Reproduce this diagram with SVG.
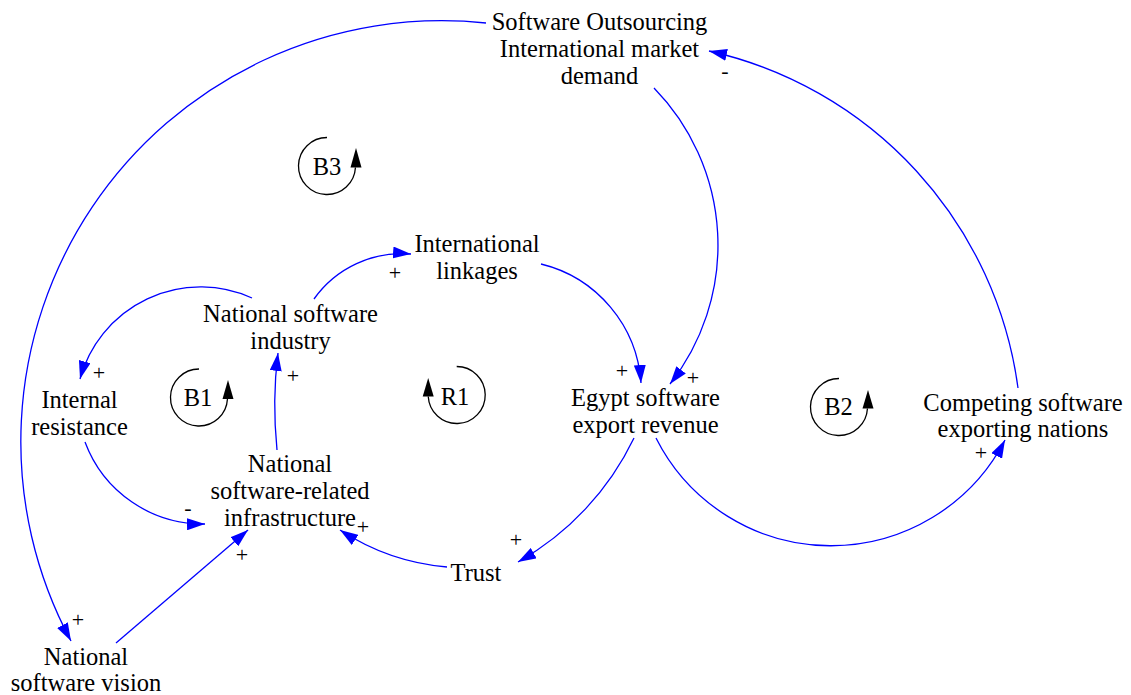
<svg xmlns="http://www.w3.org/2000/svg" width="1131" height="695" viewBox="0 0 1131 695" font-family="'Liberation Serif', 'Times New Roman', Times, serif">
<style>
text{font-family:"Liberation Serif","Times New Roman",Times,serif;fill:#000;}
.n{font-size:24.5px;text-anchor:middle;}
.p{font-size:22px;text-anchor:middle;}
.c{fill:none;stroke:#0000FF;stroke-width:1.3;marker-end:url(#ah);}
.loop{fill:none;stroke:#000;stroke-width:1.3;}
.lh{fill:#000;stroke:none;}
</style>
<defs>
<marker id="ah" markerUnits="userSpaceOnUse" viewBox="0 0 18 12" markerWidth="18" markerHeight="12" refX="18" refY="6" orient="auto">
<path d="M0,0 L18,6 L0,12 z" fill="#0000FF"/>
</marker>
</defs>
<rect width="1131" height="695" fill="#fff"/>
<g id="connectors">
<path class="c" d="M486,23 A421,421 0 0 0 71,641"/>
<path class="c" d="M654,88 A225,225 0 0 1 670,384"/>
<path class="c" d="M1018,388 A400,400 0 0 0 709,51"/>
<path class="c" d="M656,438 A196,196 0 0 0 1005,440"/>
<path class="c" d="M634,438 A283,283 0 0 1 518,562"/>
<path class="c" d="M447,567 A231,231 0 0 1 340,530"/>
<path class="c" d="M85,442 A126,126 0 0 0 205,524"/>
<path class="c" d="M116,643 L248,530"/>
<path class="c" d="M277,450 Q272,400 278,353"/>
<path class="c" d="M252,298 A125,125 0 0 0 80,379"/>
<path class="c" d="M314,299 A108,108 0 0 1 411,254"/>
<path class="c" d="M541,264 A131.5,131.5 0 0 1 641,383"/>
</g>
<g id="polarities">
<text class="p" x="78" y="627">+</text>
<text class="p" x="242" y="562">+</text>
<text class="p" x="188" y="515">-</text>
<text class="p" x="363" y="534">+</text>
<text class="p" x="293" y="383">+</text>
<text class="p" x="99" y="380">+</text>
<text class="p" x="395" y="280">+</text>
<text class="p" x="622" y="378">+</text>
<text class="p" x="693" y="385">+</text>
<text class="p" x="516" y="547">+</text>
<text class="p" x="981" y="460">+</text>
<text class="p" x="725" y="78">-</text>
</g>
<g id="node-demand"><text class="n" x="599.5" y="30">Software Outsourcing</text><text class="n" x="599.5" y="57">International market</text><text class="n" x="599.5" y="84">demand</text></g>
<g id="node-linkages"><text class="n" x="477" y="252">International</text><text class="n" x="477" y="279">linkages</text></g>
<g id="node-industry"><text class="n" x="290.5" y="321.5">National software</text><text class="n" x="290.5" y="348.5">industry</text></g>
<g id="node-resistance"><text class="n" x="79.5" y="408">Internal</text><text class="n" x="79.5" y="435">resistance</text></g>
<g id="node-revenue"><text class="n" x="645.5" y="406">Egypt software</text><text class="n" x="645.5" y="433">export revenue</text></g>
<g id="node-competing"><text class="n" x="1023" y="410.5">Competing software</text><text class="n" x="1023" y="437">exporting nations</text></g>
<g id="node-infrastructure"><text class="n" x="290" y="471.5">National</text><text class="n" x="290" y="499">software-related</text><text class="n" x="290" y="526">infrastructure</text></g>
<g id="node-trust"><text class="n" x="476" y="581">Trust</text></g>
<g id="node-vision"><text class="n" x="86" y="664.5">National</text><text class="n" x="86" y="690.5">software vision</text></g>
<g id="loop-B3"><path class="loop" d="M327,137.5 A28.5,28.5 0 1 0 355.45,167.5"/><path class="lh" d="M350.5,167.5 L361.5,167.5 L356,148 z"/><text class="n" x="327" y="175">B3</text></g>
<g id="loop-B1"><path class="loop" d="M199,369 A28.5,28.5 0 1 0 227.45,399"/><path class="lh" d="M222.5,399 L233.5,399 L228,380 z"/><text class="n" x="198" y="406">B1</text></g>
<g id="loop-B2"><path class="loop" d="M839,378.5 A28.5,28.5 0 1 0 867.45,408.5"/><path class="lh" d="M862.5,408.5 L873.5,408.5 L868,390 z"/><text class="n" x="838.5" y="415">B2</text></g>
<g id="loop-R1"><path class="loop" d="M456.7,366.5 A28.5,28.5 0 1 1 428.25,396.5"/><path class="lh" d="M422.7,396.5 L433.7,396.5 L428.2,378 z"/><text class="n" x="455" y="405">R1</text></g>
</svg>
